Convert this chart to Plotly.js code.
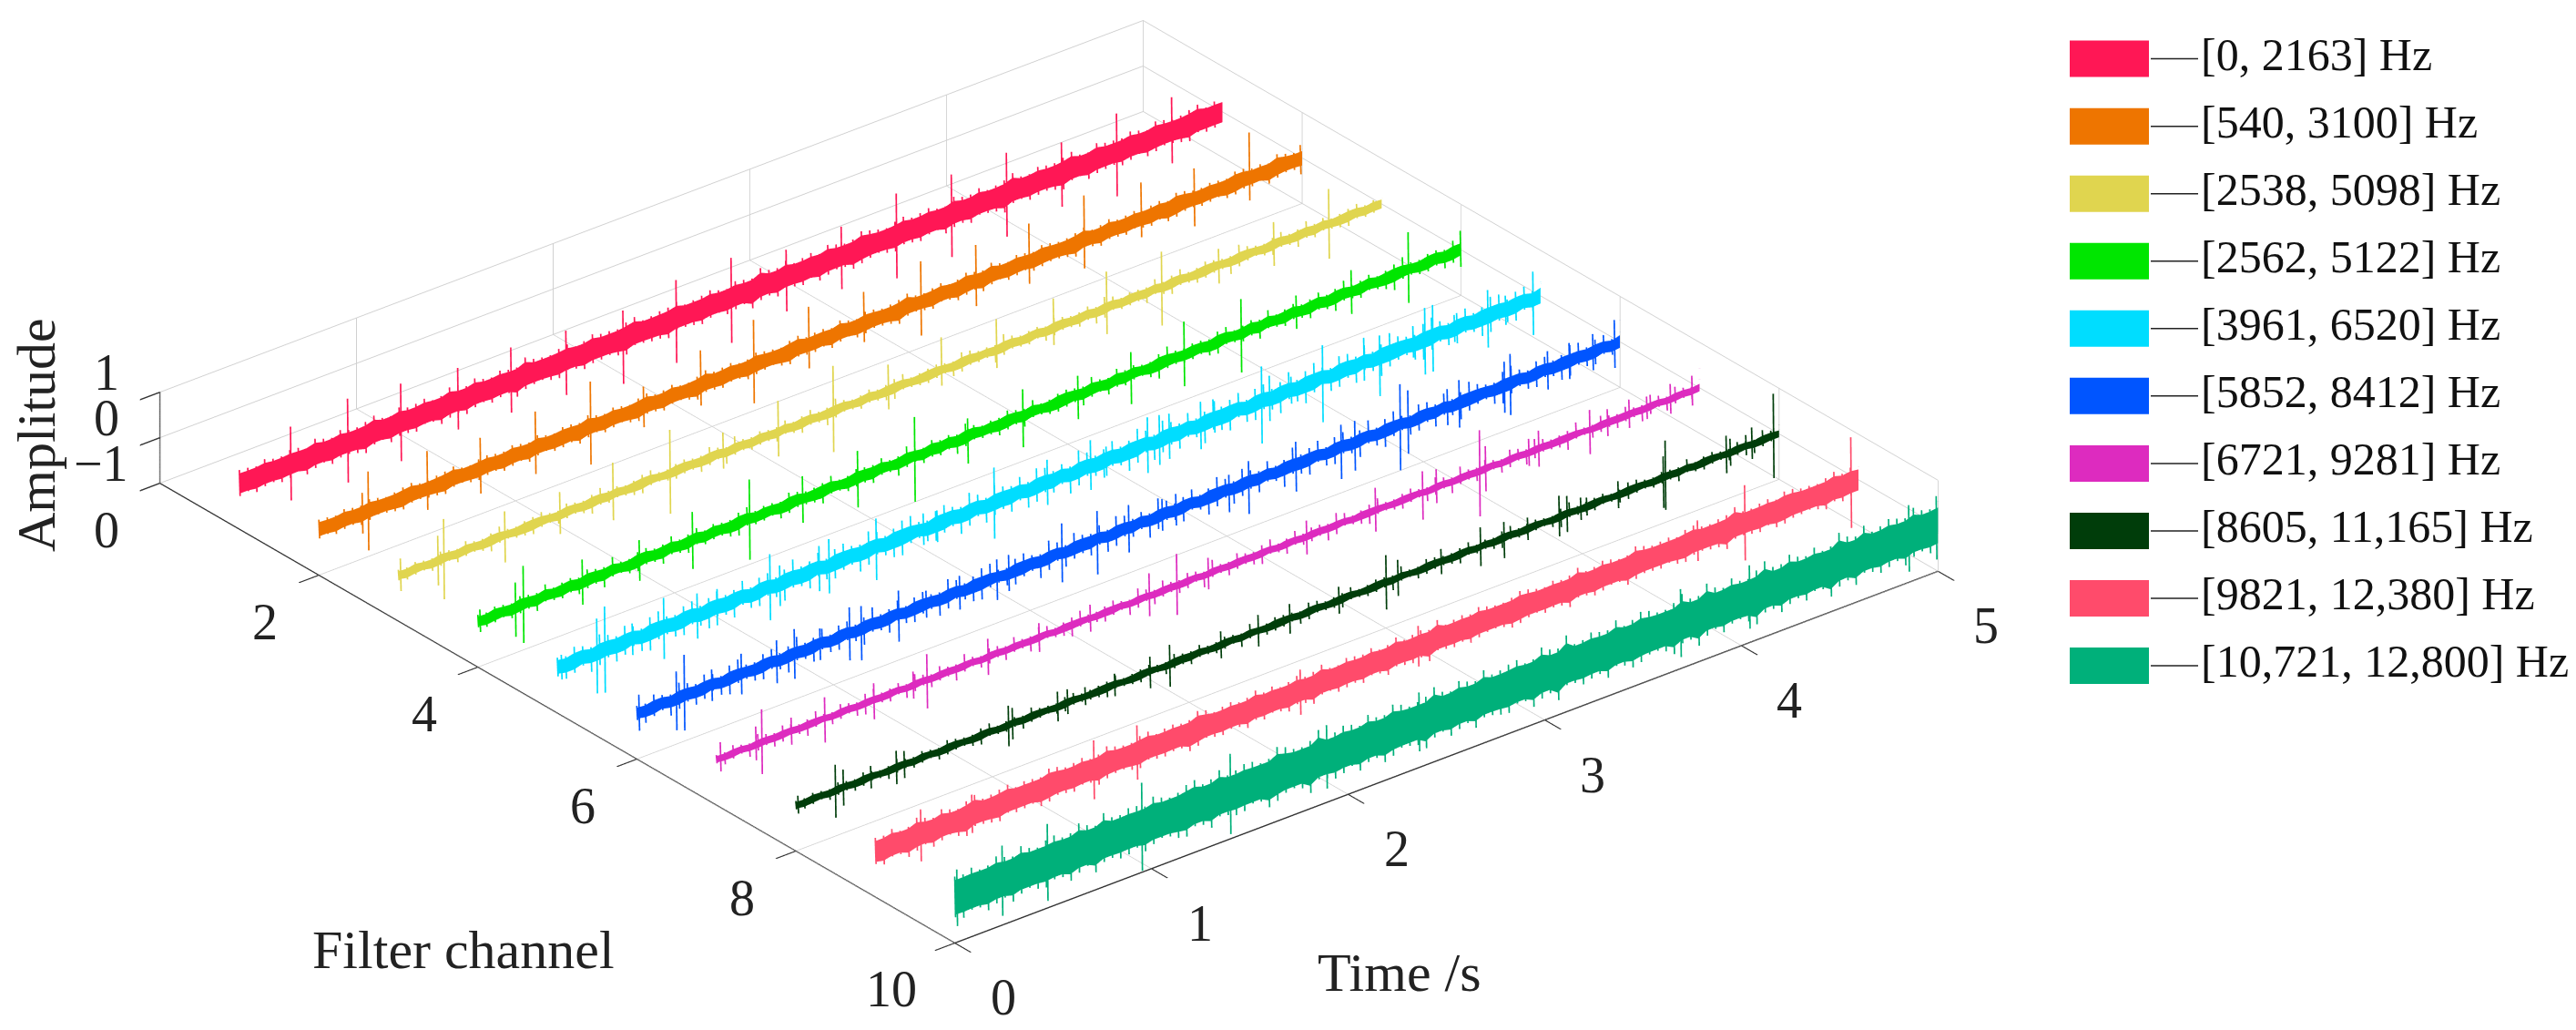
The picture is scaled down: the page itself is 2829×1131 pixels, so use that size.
<!DOCTYPE html>
<html><head><meta charset="utf-8">
<script src="https://cdn.plot.ly/plotly-3.0.1.min.js"></script>
<style>html,body{margin:0;padding:0;background:#fff}#p{width:2829px;height:1131px}</style>
</head><body><div id="p"></div>
<script>
const legendLabels=["[0, 2163] Hz","[540, 3100] Hz","[2538, 5098] Hz","[2562, 5122] Hz","[3961, 6520] Hz","[5852, 8412] Hz","[6721, 9281] Hz","[8605, 11,165] Hz","[9821, 12,380] Hz","[10,721, 12,800] Hz"];
const colors=["#FF1755","#EE7500","#E0D54F","#00E600","#00DDFF","#0055FF","#DD2BBF","#003D0A","#FF4B6B","#00B07A"];
const bandAmp=[.22,.15,.08,.1,.12,.1,.06,.065,.23,.38];
const chTicks=[0,2,4,6,8,10], timeTicks=[0,1,2,3,4,5], ampTicks=[-1,0,1];

const spikeT1=[.26,.55,.82,1.11,1.38,1.66,1.95,2.22,2.5,2.78,3.06,3.34,3.62,3.9,4.18,4.46,4.74];
const spikeHi1=[.83,.97,.86,.73,.74,.65,.62,.85,.88,.6,.65,.92,.88,.9,.67,.85,.75];
const spikeLo1=[-.8,-.88,-.85,-.63,-.7,-.77,-1,-.98,-1,-.76,-.73,-.95,-.94,-.95,-.75,-.98,-.71];
const spikeT2=[.22,.25,.55,.82,1.1,1.38,1.65,1.94,2.21,2.49,2.77,3.06,3.34,3.61,3.89,4.18,4.45,4.73,4.99];
const spikeHi2=[.45,.87,.83,.68,.8,1,.45,.77,1,.83,.7,.9,.8,.83,.99,.8,.67,1,.3];
const spikeLo2=[-.45,-.87,-.47,-.55,-.58,-.83,-.45,-.45,-.84,-.53,-.41,-.74,-.55,-.5,-.62,-.41,-.61,-.5,-.35];
const spikeT3=[.01,.2,.23,.54,.82,1.09,1.38,1.65,1.93,2.21,2.49,2.76,3.04,3.33,3.6,3.88,4.17,4.45,4.73,5];
const spikeHi3=[.36,.55,.87,.53,.5,.7,.95,.45,.69,1,.57,.73,.67,.65,.8,.78,.37,.5,.77,.43];
const spikeLo3=[-.36,-.55,-.9,-.6,-.43,-.57,-.9,-.35,-.54,-.9,-.42,-.34,-.41,-.38,-.58,-.85,-.4,-.47,-.77,-.4];
const spikeT4=[.01,.19,.23,.53,.82,1.09,1.38,1.65,1.93,2.22,2.49,2.77,3.05,3.32,3.59,3.88,4.16,4.44,4.73,4.995];
const spikeHi4=[.25,.55,.85,.5,.45,.63,.87,.5,.6,.87,.4,.58,.42,.5,.73,.75,.37,.47,.83,.43];
const spikeLo4=[-.25,-.65,-.85,-.5,-.45,-.63,-.9,-.53,-.65,-1,-.6,-.7,-.54,-.65,-.7,-.87,-.37,-.5,-.73,-.37];
const spikeT5=[0,.02,.2,.24,.38,.54,.71,.81,1.08,1.13,1.33,1.38,1.62,1.86,1.93,2.22,2.49,2.71,2.79,3,3.06,3.11,3.27,3.34,3.58,3.62,3.73,3.89,4.1,4.18,4.35,4.41,4.45,4.56,4.73,4.82,4.96,5];
const spikeHi5=[.2,.25,.75,.95,.35,.65,.47,.35,.73,.4,.5,.57,.63,.35,.3,.77,.5,.57,.3,.6,.55,.5,.5,.4,.77,.5,.3,.73,.55,.47,.4,.7,.7,.3,.57,.3,.6,.3];
const spikeLo5=[-.2,-.3,-.9,-.95,-.35,-.7,-.53,-.4,-.73,-.5,-.5,-.63,-.73,-.35,-.4,-.8,-.5,-.53,-.35,-.63,-.55,-.5,-.55,-.3,-.93,-.5,-.3,-.97,-.4,-.87,-.3,-.77,-.77,-.3,-.7,-.35,-.8,-.3];
const spikeT6=[.01,.2,.24,.38,.53,.71,.8,.93,1.08,1.14,1.33,1.47,1.64,1.83,1.89,2.16,2.34,2.5,2.67,2.74,3.01,3.11,3.35,3.58,3.65,3.88,3.92,4.12,4.18,4.41,4.44,4.63,4.74,4.86,4.97,5];
const spikeHi6=[.4,.6,.9,.35,.45,.45,.55,.35,.57,.5,.53,.3,.35,.4,.4,.65,.63,.5,.35,.35,.33,.47,.5,.5,.47,.9,.7,.4,.5,.53,.65,.4,.4,.4,.53,.47];
const spikeLo6=[-.4,-.7,-.77,-.35,-.45,-.5,-.55,-.35,-.6,-.7,-.6,-.3,-.4,-.5,-.4,-.65,-.77,-.55,-.35,-.35,-.5,-.7,-.6,-.7,-.63,-1,-.7,-.4,-.55,-.6,-.7,-.45,-.4,-.4,-.53,-.47];
const spikeT7=[.02,.2,.23,.38,.55,.8,1,1.07,1.38,1.64,1.9,2.2,2.34,2.5,3,3.35,3.59,3.66,3.88,3.91,4.13,4.18,4.44,4.53,4.64,4.73,4.85,4.96,5];
const spikeHi7=[.35,.4,.73,.3,.47,.37,.3,.57,.4,.32,.3,.5,.7,.35,.35,.5,.47,.4,.9,.5,.3,.4,.43,.3,.33,.25,.33,.33,.43];
const spikeLo7=[-.3,-.35,-.7,-.3,-.53,-.43,-.3,-.63,-.4,-.32,-.3,-.45,-.65,-.35,-.4,-.47,-.6,-.35,-1,-.5,-.3,-.4,-.55,-.3,-.3,-.25,-.33,-.33,-.43];
const spikeT8=[.01,.2,.24,.38,.51,.55,1.08,1.1,1.33,1.38,1.47,1.62,1.8,1.9,2.16,2.35,2.51,2.76,3,3.06,3.28,3.48,3.6,3.72,3.88,3.92,3.99,4.02,4.18,4.41,4.42,4.73,4.75,4.83,4.86,4.97,5];
const spikeHi8=[.2,.57,.4,.25,.37,.3,.43,.35,.33,.3,.2,.25,.33,.43,.3,.35,.33,.3,.6,.4,.28,.43,.35,.25,.47,.4,.25,.2,.3,.47,.8,.4,.3,.25,.37,.93,.2];
const spikeLo8=[-.2,-.6,-.4,-.25,-.37,-.3,-.47,-.35,-.33,-.25,-.2,-.25,-.37,-.5,-.3,-.35,-.33,-.3,-.6,-.4,-.28,-.43,-.45,-.25,-.43,-.4,-.25,-.2,-.3,-.67,-.73,-.43,-.3,-.2,-.33,-.93,-.2];
const spikeT9=[.23,.49,1.11,1.33,2.16,2.76,4.18,4.42,4.96];
const spikeHi9=[.55,.45,.63,.6,.47,.45,.45,.83,1];
const spikeLo9=[-.6,-.4,-.67,-.6,-.53,-.45,-.45,-.83,-1];
const spikeT10=[.01,.24,.47,.95,1.4,1.89,2.36,3.69,4.04,4.85,4.99];
const spikeHi10=[.6,.75,.85,.97,.87,.7,.65,.75,.7,.7,.67];
const spikeLo10=[-.65,-.8,-.85,-.97,-.9,-.7,-.65,-.75,-.7,-.77,-.73];

const wave1=[.3,-.28,.24,-.33,.27,-.25,.32,-.3,.22,-.36,.29,-.24,.34,-.27,.26,-.31,.38,-.26,.23,-.35,.28,-.29,.33,-.23,.25,-.37,.3,-.26,.36,-.28,.24,-.32,.27,-.25,.4,-.3,.26,-.24,.31,-.34,.23,-.27,.35,-.29,.28,-.25,.33,-.38,.24,-.26,.3,-.31,.37,-.24,.26,-.29,.34,-.27,.23,-.33,.29,-.25,.41,-.3,.27,-.36,.24,-.28,.32,-.23,.36,-.3,.25,-.27,.38,-.33,.28,-.24,.31,-.35,.26,-.29,.33,-.25,.23,-.37,.3,-.28,.35,-.24,.27,-.31,.4,-.26,.24,-.33,.29,-.27,.32,-.38,.25,-.23,.36,-.3,.28,-.26,.34,-.29,.23,-.35,.31,-.25,.27,-.32,.37,-.24,.3,-.28];
const wave2=[.22,-.2,.17,-.24,.2,-.18,.25,-.21,.16,-.19,.23,-.26,.18,-.17,.21,-.23,.27,-.18,.16,-.22,.24,-.2,.18,-.25,.21,-.17,.26,-.19,.16,-.23,.22,-.18,.28,-.21,.17,-.24,.2,-.16,.23,-.27,.18,-.2,.25,-.17,.16,-.22,.29,-.19,.21,-.24,.17,-.18,.26,-.22,.19,-.16,.24,-.28,.18,-.21,.22,-.17,.27,-.2,.16,-.25,.23,-.18,.2,-.23,.3,-.19,.17,-.21,.25,-.16,.19,-.27,.22,-.18,.28,-.2,.16,-.24,.21,-.17,.25,-.22,.18,-.19,.23,-.29,.17,-.2,.26,-.18,.2,-.23,.16,-.21,.24,-.17,.28,-.25,.19,-.18,.22,-.2,.17,-.26,.25,-.19,.21,-.16,.29,-.23,.18,-.2];
const wave3=[.13,-.11,.16,-.12,.1,-.18,.14,-.1,.2,-.13,.11,-.16,.24,-.12,.1,-.15,.17,-.21,.12,-.1,.19,-.14,.11,-.17,.25,-.12,.15,-.1,.13,-.19,.22,-.11,.1,-.15,.18,-.13,.12,-.24,.16,-.1,.27,-.14,.11,-.17,.13,-.12,.2,-.1,.15,-.22,.11,-.13,.26,-.16,.1,-.12,.18,-.11,.14,-.2,.24,-.1,.12,-.15,.17,-.13,.1,-.23,.2,-.12,.13,-.11,.28,-.18,.11,-.14,.16,-.1,.22,-.17,.12,-.13,.19,-.11,.26,-.2,.1,-.15,.14,-.12,.23,-.1,.17,-.24,.11,-.13,.2,-.16,.12,-.11,.29,-.19,.13,-.1,.16,-.22,.11,-.14,.25,-.12,.18,-.1,.13,-.17,.21,-.11,.15,-.13];
const wave4=[.15,-.13,.19,-.16,.12,-.21,.17,-.14,.26,-.12,.16,-.19,.13,-.24,.18,-.15,.3,-.13,.12,-.2,.22,-.14,.16,-.27,.13,-.17,.24,-.12,.19,-.15,.14,-.23,.28,-.13,.17,-.16,.12,-.25,.2,-.14,.15,-.18,.27,-.12,.13,-.21,.18,-.16,.24,-.13,.14,-.29,.17,-.12,.22,-.15,.19,-.13,.3,-.2,.12,-.16,.15,-.24,.18,-.14,.26,-.12,.13,-.19,.21,-.17,.14,-.28,.16,-.12,.25,-.15,.19,-.13,.12,-.22,.32,-.16,.14,-.18,.17,-.13,.23,-.26,.12,-.15,.2,-.14,.28,-.12,.16,-.21,.13,-.17,.25,-.13,.19,-.3,.14,-.16,.22,-.12,.17,-.24,.33,-.15,.13,-.19,.2,-.14,.27,-.22];
const wave5=[.22,-.18,.32,-.26,.17,-.38,.3,-.2,.36,-.28,.16,-.34,.4,-.22,.18,-.3,.34,-.17,.27,-.4,.2,-.24,.37,-.16,.3,-.33,.17,-.27,.42,-.2,.24,-.36,.16,-.3,.35,-.23,.19,-.41,.33,-.17,.26,-.37,.4,-.2,.16,-.3,.36,-.25,.18,-.42,.31,-.17,.38,-.28,.22,-.35,.17,-.4,.34,-.2,.28,-.16,.44,-.33,.19,-.26,.37,-.18,.24,-.43,.32,-.16,.4,-.3,.2,-.36,.17,-.25,.45,-.22,.3,-.38,.16,-.33,.36,-.19,.27,-.42,.18,-.3,.41,-.24,.16,-.35,.33,-.2,.38,-.17,.26,-.44,.3,-.22,.19,-.36,.43,-.28,.17,-.32,.35,-.18,.24,-.4,.38,-.2,.3,-.34,.17,-.27];
const wave6=[.17,-.15,.28,-.2,.14,-.33,.25,-.16,.3,-.24,.13,-.29,.35,-.17,.15,-.26,.3,-.14,.22,-.36,.16,-.2,.33,-.13,.26,-.28,.14,-.23,.38,-.16,.2,-.32,.13,-.25,.3,-.18,.15,-.37,.28,-.14,.22,-.33,.36,-.16,.13,-.26,.31,-.2,.15,-.38,.27,-.14,.34,-.23,.18,-.3,.13,-.36,.3,-.16,.24,-.14,.4,-.28,.15,-.22,.32,-.13,.2,-.38,.27,-.15,.35,-.25,.16,-.31,.14,-.2,.4,-.18,.25,-.34,.13,-.28,.32,-.15,.22,-.37,.14,-.26,.36,-.19,.13,-.3,.28,-.16,.33,-.14,.22,-.38,.26,-.18,.15,-.32,.38,-.23,.14,-.27,.3,-.15,.2,-.35,.33,-.16,.26,-.29,.13,-.22];
const wave7=[.1,-.09,.18,-.12,.08,-.22,.15,-.1,.2,-.16,.09,-.13,.24,-.11,.08,-.19,.14,-.09,.21,-.25,.1,-.12,.17,-.08,.23,-.15,.09,-.2,.12,-.1,.26,-.13,.08,-.18,.16,-.09,.22,-.11,.1,-.24,.19,-.08,.13,-.17,.25,-.1,.09,-.14,.2,-.12,.08,-.26,.17,-.09,.23,-.13,.1,-.19,.15,-.08,.27,-.11,.09,-.21,.14,-.1,.18,-.24,.08,-.12,.22,-.09,.16,-.15,.1,-.27,.2,-.08,.12,-.18,.25,-.1,.09,-.14,.19,-.11,.08,-.23,.16,-.09,.26,-.13,.1,-.2,.13,-.08,.22,-.17,.09,-.25,.18,-.1,.12,-.15,.27,-.09,.08,-.21,.15,-.11,.2,-.12,.1,-.26,.17,-.08,.23,-.14,.09,-.19];
const wave8=[.1,-.09,.14,-.11,.08,-.16,.12,-.09,.17,-.13,.08,-.1,.19,-.12,.09,-.15,.11,-.08,.18,-.14,.1,-.09,.16,-.2,.08,-.11,.13,-.09,.2,-.12,.1,-.08,.15,-.17,.09,-.1,.12,-.14,.21,-.08,.1,-.13,.16,-.09,.08,-.19,.13,-.11,.18,-.09,.1,-.15,.12,-.08,.22,-.1,.09,-.16,.14,-.12,.08,-.2,.17,-.09,.11,-.13,.19,-.08,.1,-.15,.13,-.1,.23,-.09,.08,-.18,.15,-.11,.1,-.14,.2,-.08,.12,-.09,.16,-.21,.09,-.12,.14,-.1,.08,-.17,.24,-.09,.11,-.13,.15,-.08,.1,-.19,.18,-.11,.09,-.14,.12,-.1,.21,-.08,.13,-.16,.1,-.09,.17,-.12,.08,-.22,.14,-.1];
const wave9=[.3,-.28,.36,-.25,.27,-.4,.33,-.26,.38,-.31,.25,-.35,.42,-.27,.29,-.33,.37,-.25,.31,-.29,.26,-.38,.35,-.27,.3,-.34,.25,-.28,.39,-.32,.27,-.26,.34,-.37,.25,-.3,.32,-.27,.28,-.41,.36,-.25,.3,-.33,.26,-.29,.38,-.27,.33,-.25,.29,-.36,.27,-.31,.4,-.26,.25,-.34,.31,-.28,.35,-.25,.28,-.38,.26,-.3,.33,-.27,.42,-.25,.29,-.32,.27,-.36,.31,-.26,.25,-.29,.37,-.34,.28,-.25,.32,-.27,.3,-.4,.26,-.28,.35,-.31,.25,-.26,.39,-.33,.27,-.29,.31,-.25,.34,-.37,.28,-.26,.3,-.32,.43,-.27,.26,-.3,.33,-.25,.36,-.35,.29,-.28,.25,-.31,.38,-.27,.34,-.29];
const wave10=[.46,-.44,.52,-.41,.43,-.56,.48,-.42,.58,-.47,.41,-.5,.54,-.43,.45,-.6,.49,-.41,.62,-.46,.44,-.52,.5,-.42,.57,-.48,.41,-.45,.55,-.59,.43,-.47,.6,-.42,.46,-.53,.51,-.41,.44,-.63,.56,-.45,.42,-.49,.66,-.43,.47,-.55,.5,-.41,.58,-.46,.44,-.6,.53,-.42,.45,-.5,.64,-.47,.41,-.57,.49,-.43,.6,-.44,.46,-.52,.55,-.41,.43,-.62,.51,-.46,.68,-.42,.44,-.54,.48,-.45,.6,-.41,.47,-.58,.53,-.43,.42,-.5,.63,-.46,.45,-.65,.5,-.42,.56,-.44,.41,-.53,.66,-.47,.46,-.6,.49,-.43,.55,-.41,.44,-.67,.52,-.45,.62,-.42,.47,-.56,.5,-.44,.6,-.48,.43,-.54];
const spikeT=[spikeT1,spikeT2,spikeT3,spikeT4,spikeT5,spikeT6,spikeT7,spikeT8,spikeT9,spikeT10];
const spikeHi=[spikeHi1,spikeHi2,spikeHi3,spikeHi4,spikeHi5,spikeHi6,spikeHi7,spikeHi8,spikeHi9,spikeHi10];
const spikeLo=[spikeLo1,spikeLo2,spikeLo3,spikeLo4,spikeLo5,spikeLo6,spikeLo7,spikeLo8,spikeLo9,spikeLo10];
const waves=[wave1,wave2,wave3,wave4,wave5,wave6,wave7,wave8,wave9,wave10];

const traces=[];
colors.forEach((c,i)=>{const ch=i+1,a=bandAmp[i],w=waves[i],len=w.length;
 // solid core: a ribbon whose jagged edges follow the sampled envelope
 const edge=v=>Math.max(a,Math.min(.75*Math.abs(v),1.5*a));
 const mx=[],my=[],mz=[],mi=[],mj=[],mk=[];
 w.forEach((v,n)=>{const t=n*5/(len-1);
  mx.push(ch,ch);my.push(t,t);mz.push(-edge(w[(n+1)%len]),edge(v));
  if(n<len-1){const b=2*n;mi.push(b,b+1);mj.push(b+1,b+3);mk.push(b+2,b+2);}
 });
 traces.push({type:'mesh3d',x:mx,y:my,z:mz,i:mi,j:mj,k:mk,color:c,flatshading:true,hoverinfo:'skip',showscale:false,
  lighting:{ambient:1,diffuse:0,specular:0,fresnel:0,roughness:1}});
 const xs=[],ys=[],zs=[];
 w.forEach((v,n)=>{const t=n*5/(len-1),nx=w[(n+1)%len];
  xs.push(ch,ch,null);ys.push(t,t+.004,null);zs.push(Math.abs(v),-Math.abs(nx),null)});
 spikeT[i].forEach((t,n)=>{xs.push(ch,ch,null);ys.push(t,t+.004,null);zs.push(spikeHi[i][n],spikeLo[i][n],null)});
 traces.push({type:'scatter3d',mode:'lines',x:xs,y:ys,z:zs,line:{color:c,width:3.4},hoverinfo:'skip',showlegend:false});
});
const axis=(tv,r)=>({range:r,tickmode:'array',tickvals:tv,showticklabels:false,showgrid:true,gridcolor:'#d0d0d0',gridwidth:2,showline:true,linecolor:'#333',linewidth:3,ticks:'outside',ticklen:28,tickcolor:'#333',tickwidth:3,zeroline:false,showbackground:false,showspikes:false,title:{text:''}});
const L=6, S=2.625;
const tickFont={family:'Liberation Serif',size:56,color:'#222'}, titleFont={family:'Liberation Serif',size:60,color:'#222'}, legendFont={family:'Liberation Serif',size:50,color:'#111'};
const W=2829,H=1131;
const px=x=>x/W, py=y=>1-y/H;
const shapes=[],ann=[
 {xref:'paper',yref:'paper',x:px(40),y:py(478),xanchor:'center',yanchor:'middle',text:'Amplitude',textangle:-90,showarrow:false,font:titleFont},
 {xref:'paper',yref:'paper',x:px(509),y:py(1043),xanchor:'center',yanchor:'middle',text:'Filter channel',showarrow:false,font:titleFont},
 {xref:'paper',yref:'paper',x:px(1537),y:py(1068),xanchor:'center',yanchor:'middle',text:'Time /s',showarrow:false,font:titleFont}];
legendLabels.forEach((t,i)=>{const y=64.6+i*74.05;
 shapes.push({type:'rect',xref:'paper',yref:'paper',x0:px(2273),x1:px(2360),y0:py(y-20),y1:py(y+20),fillcolor:colors[i],line:{width:0}});
 shapes.push({type:'line',xref:'paper',yref:'paper',x0:px(2362),x1:px(2414),y0:py(y),y1:py(y),line:{color:'#222',width:1.5}});
 ann.push({xref:'paper',yref:'paper',x:px(2415),y:py(y-5),xanchor:'left',yanchor:'middle',text:t,showarrow:false,font:legendFont});
});
const lay={width:W,height:H,margin:{l:0,r:0,t:0,b:0},paper_bgcolor:'#fff',showlegend:false,shapes:shapes,annotations:ann,
 scene:{domain:{x:[0,2304/2829],y:[73/1131,1]},aspectmode:'manual',aspectratio:{x:S,y:S,z:.0814*S},
  camera:{projection:{type:'orthographic'},up:{x:0,y:0,z:1},center:{x:0,y:0,z:0},eye:{x:.6875*L,y:-.5558*L,z:.4676*L}},
  xaxis:axis(chTicks,[0,10]),yaxis:axis(timeTicks,[0,5]),zaxis:axis(ampTicks,[-1,1]),
  annotations:[
   ...chTicks.map(k=>({x:k,y:0,z:-1,text:String(k),showarrow:false,xanchor:'center',yanchor:'middle',xshift:k===10?-70:-59,yshift:-51,font:tickFont})),
   ...timeTicks.map(k=>({x:10,y:k,z:-1,text:String(k),showarrow:false,xanchor:'center',yanchor:'middle',xshift:53,yshift:-60,font:tickFont})),
   ...ampTicks.map(k=>({x:0,y:0,z:k,text:k<0?'\u2212'+(-k):String(k),showarrow:false,xanchor:'center',yanchor:'middle',xshift:k<0?-65:-59,yshift:22,font:tickFont}))
  ]}};
Plotly.newPlot('p',traces,lay,{displayModeBar:false});
</script></body></html>
